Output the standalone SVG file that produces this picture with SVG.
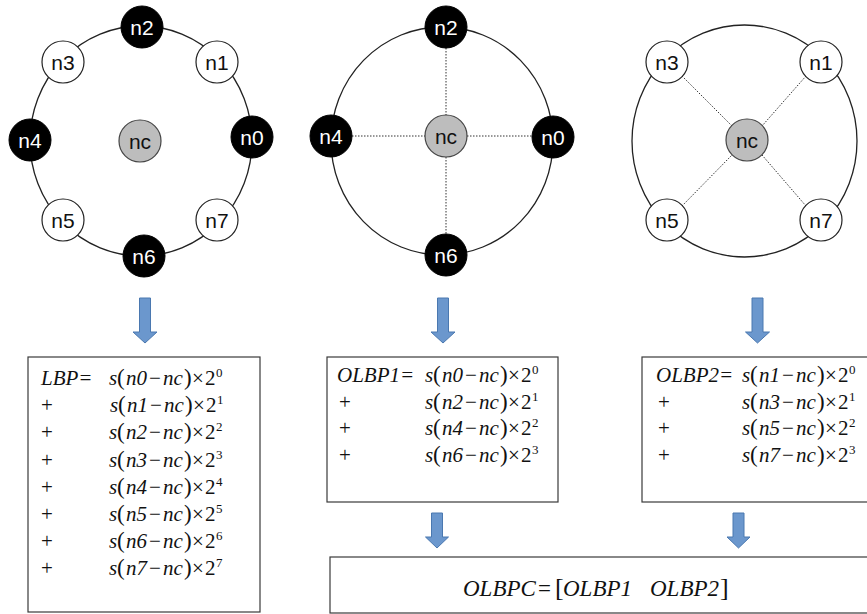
<svg xmlns="http://www.w3.org/2000/svg" width="867" height="614" viewBox="0 0 867 614">
<defs>
<style>
.ring{fill:none;stroke:#222;stroke-width:1.3}
.nb{fill:#000;stroke:#000;stroke-width:1}
.nw{fill:#fff;stroke:#222;stroke-width:1.2}
.ng{fill:#bdbdbd;stroke:#444;stroke-width:1.2}
.lb{font-family:"Liberation Sans",Arial,sans-serif;font-size:21px;text-anchor:middle;dominant-baseline:central}
.lw{fill:#fff}
.lk{fill:#111}
.dot{stroke:#333;stroke-width:1;stroke-dasharray:1.5 1.5;fill:none}
.arr{fill:#6b97cd;stroke:#4a78b0;stroke-width:1}
.box{fill:#fff;stroke:#3a3a3a;stroke-width:1.2}
.m{font-family:"Liberation Serif","Times New Roman",serif;font-size:21px;fill:#111}
.i{font-style:italic}
.p{font-size:23px}
.sup{font-size:13px}
</style>
</defs>

<!-- Diagram 1 -->
<g id="ring1"><ellipse class="ring" cx="141" cy="141" rx="111" ry="115"/></g>
<g id="d1-n2"><circle class="nb" cx="142" cy="27" r="21"/><text class="lb lw" x="142" y="27">n2</text></g>
<g id="d1-n1"><circle class="nw" cx="217" cy="62" r="21"/><text class="lb lk" x="217" y="62">n1</text></g>
<g id="d1-n3"><circle class="nw" cx="63" cy="62" r="21"/><text class="lb lk" x="63" y="62">n3</text></g>
<g id="d1-n4"><circle class="nb" cx="30" cy="140" r="21"/><text class="lb lw" x="30" y="140">n4</text></g>
<g id="d1-n0"><circle class="nb" cx="252" cy="137" r="21"/><text class="lb lw" x="252" y="137">n0</text></g>
<g id="d1-nc"><circle class="ng" cx="140" cy="141" r="21"/><text class="lb lk" x="140" y="141">nc</text></g>
<g id="d1-n5"><circle class="nw" cx="63" cy="220" r="21"/><text class="lb lk" x="63" y="220">n5</text></g>
<g id="d1-n7"><circle class="nw" cx="217" cy="220" r="21"/><text class="lb lk" x="217" y="220">n7</text></g>
<g id="d1-n6"><circle class="nb" cx="144" cy="256" r="21"/><text class="lb lw" x="144" y="256">n6</text></g>

<!-- Diagram 2 -->
<g id="ring2"><ellipse class="ring" cx="442" cy="141" rx="111" ry="114"/></g>
<g id="connectors">
<line class="dot" x1="446" y1="48" x2="446" y2="115"/>
<line class="dot" x1="446" y1="157" x2="446" y2="234"/>
<line class="dot" x1="352" y1="136" x2="425" y2="136"/>
<line class="dot" x1="467" y1="136" x2="532" y2="136"/>
<line class="dot" x1="682" y1="76" x2="732" y2="126"/>
<line class="dot" x1="806" y1="76" x2="762" y2="126"/>
<line class="dot" x1="682" y1="206" x2="732" y2="155"/>
<line class="dot" x1="806" y1="206" x2="762" y2="155"/>
</g>
<g id="d2-n2"><circle class="nb" cx="446" cy="27" r="21"/><text class="lb lw" x="446" y="27">n2</text></g>
<g id="d2-n4"><circle class="nb" cx="331" cy="136" r="21"/><text class="lb lw" x="331" y="136">n4</text></g>
<g id="d2-n0"><circle class="nb" cx="553" cy="137" r="21"/><text class="lb lw" x="553" y="137">n0</text></g>
<g id="d2-nc"><circle class="ng" cx="446" cy="136" r="21"/><text class="lb lk" x="446" y="136">nc</text></g>
<g id="d2-n6"><circle class="nb" cx="446" cy="255" r="21"/><text class="lb lw" x="446" y="255">n6</text></g>

<!-- Diagram 3 -->
<g id="ring3"><ellipse class="ring" cx="744.5" cy="141" rx="112.5" ry="116"/></g>
<g id="d3-n3"><circle class="nw" cx="667" cy="62" r="21"/><text class="lb lk" x="667" y="62">n3</text></g>
<g id="d3-n1"><circle class="nw" cx="821" cy="62" r="21"/><text class="lb lk" x="821" y="62">n1</text></g>
<g id="d3-nc"><circle class="ng" cx="747" cy="140" r="21"/><text class="lb lk" x="747" y="140">nc</text></g>
<g id="d3-n5"><circle class="nw" cx="667" cy="220" r="21"/><text class="lb lk" x="667" y="220">n5</text></g>
<g id="d3-n7"><circle class="nw" cx="821" cy="220" r="21"/><text class="lb lk" x="821" y="220">n7</text></g>

<!-- Arrows -->
<g id="arrows">
<path class="arr" d="M139.5,298 H150.5 V332 H157 L145,343 L133,332 H139.5 Z"/>
<path class="arr" d="M437.5,298 H448.5 V332 H455 L443,343 L431,332 H437.5 Z"/>
<path class="arr" d="M752,298 H763 V332 H769.5 L757.5,343 L745.5,332 H752 Z"/>
<path class="arr" d="M431.5,513 H442.5 V537 H448.5 L437,548 L425.5,537 H431.5 Z"/>
<path class="arr" d="M733,513 H744 V537 H750 L738.5,548 L727,537 H733 Z"/>
</g>

<!-- Box 1: LBP -->
<g id="box-lbp">
<rect class="box" x="28" y="357" width="232" height="255"/>
<text class="m i" x="41" y="385">LBP=</text>
<g class="m">
<text x="41" y="412.2">+</text><text x="41" y="439.4">+</text><text x="41" y="466.6">+</text>
<text x="41" y="493.8">+</text><text x="41" y="521">+</text><text x="41" y="548.2">+</text><text x="41" y="575.4">+</text>
</g>
<g transform="translate(109,385)"><text class="m"><tspan class="i" x="0">s</tspan><tspan class="p" x="8">(</tspan><tspan class="i" x="17">n0</tspan><tspan x="40">−</tspan><tspan class="i" x="54">nc</tspan><tspan class="p" x="75">)</tspan><tspan x="83">×</tspan><tspan x="96">2</tspan><tspan class="sup" x="107" dy="-8">0</tspan></text></g>
<g transform="translate(110,412.2)"><text class="m"><tspan class="i" x="0">s</tspan><tspan class="p" x="8">(</tspan><tspan class="i" x="17">n1</tspan><tspan x="40">−</tspan><tspan class="i" x="54">nc</tspan><tspan class="p" x="75">)</tspan><tspan x="83">×</tspan><tspan x="96">2</tspan><tspan class="sup" x="107" dy="-8">1</tspan></text></g>
<g transform="translate(109,439.4)"><text class="m"><tspan class="i" x="0">s</tspan><tspan class="p" x="8">(</tspan><tspan class="i" x="17">n2</tspan><tspan x="40">−</tspan><tspan class="i" x="54">nc</tspan><tspan class="p" x="75">)</tspan><tspan x="83">×</tspan><tspan x="96">2</tspan><tspan class="sup" x="107" dy="-8">2</tspan></text></g>
<g transform="translate(109,466.6)"><text class="m"><tspan class="i" x="0">s</tspan><tspan class="p" x="8">(</tspan><tspan class="i" x="17">n3</tspan><tspan x="40">−</tspan><tspan class="i" x="54">nc</tspan><tspan class="p" x="75">)</tspan><tspan x="83">×</tspan><tspan x="96">2</tspan><tspan class="sup" x="107" dy="-8">3</tspan></text></g>
<g transform="translate(109,493.8)"><text class="m"><tspan class="i" x="0">s</tspan><tspan class="p" x="8">(</tspan><tspan class="i" x="17">n4</tspan><tspan x="40">−</tspan><tspan class="i" x="54">nc</tspan><tspan class="p" x="75">)</tspan><tspan x="83">×</tspan><tspan x="96">2</tspan><tspan class="sup" x="107" dy="-8">4</tspan></text></g>
<g transform="translate(109,521)"><text class="m"><tspan class="i" x="0">s</tspan><tspan class="p" x="8">(</tspan><tspan class="i" x="17">n5</tspan><tspan x="40">−</tspan><tspan class="i" x="54">nc</tspan><tspan class="p" x="75">)</tspan><tspan x="83">×</tspan><tspan x="96">2</tspan><tspan class="sup" x="107" dy="-8">5</tspan></text></g>
<g transform="translate(109,548.2)"><text class="m"><tspan class="i" x="0">s</tspan><tspan class="p" x="8">(</tspan><tspan class="i" x="17">n6</tspan><tspan x="40">−</tspan><tspan class="i" x="54">nc</tspan><tspan class="p" x="75">)</tspan><tspan x="83">×</tspan><tspan x="96">2</tspan><tspan class="sup" x="107" dy="-8">6</tspan></text></g>
<g transform="translate(109,575.4)"><text class="m"><tspan class="i" x="0">s</tspan><tspan class="p" x="8">(</tspan><tspan class="i" x="17">n7</tspan><tspan x="40">−</tspan><tspan class="i" x="54">nc</tspan><tspan class="p" x="75">)</tspan><tspan x="83">×</tspan><tspan x="96">2</tspan><tspan class="sup" x="107" dy="-8">7</tspan></text></g>
</g>

<!-- Box 2: OLBP1 -->
<g id="box-olbp1">
<rect class="box" x="327" y="357" width="231" height="145"/>
<text class="m i" x="337" y="382">OLBP1=</text>
<g class="m"><text x="339" y="408.7">+</text><text x="339" y="435.4">+</text><text x="339" y="462.1">+</text></g>
<g transform="translate(425,382)"><text class="m"><tspan class="i" x="0">s</tspan><tspan class="p" x="8">(</tspan><tspan class="i" x="17">n0</tspan><tspan x="40">−</tspan><tspan class="i" x="54">nc</tspan><tspan class="p" x="75">)</tspan><tspan x="83">×</tspan><tspan x="96">2</tspan><tspan class="sup" x="107" dy="-8">0</tspan></text></g>
<g transform="translate(425,408.7)"><text class="m"><tspan class="i" x="0">s</tspan><tspan class="p" x="8">(</tspan><tspan class="i" x="17">n2</tspan><tspan x="40">−</tspan><tspan class="i" x="54">nc</tspan><tspan class="p" x="75">)</tspan><tspan x="83">×</tspan><tspan x="96">2</tspan><tspan class="sup" x="107" dy="-8">1</tspan></text></g>
<g transform="translate(425,435.4)"><text class="m"><tspan class="i" x="0">s</tspan><tspan class="p" x="8">(</tspan><tspan class="i" x="17">n4</tspan><tspan x="40">−</tspan><tspan class="i" x="54">nc</tspan><tspan class="p" x="75">)</tspan><tspan x="83">×</tspan><tspan x="96">2</tspan><tspan class="sup" x="107" dy="-8">2</tspan></text></g>
<g transform="translate(425,462.1)"><text class="m"><tspan class="i" x="0">s</tspan><tspan class="p" x="8">(</tspan><tspan class="i" x="17">n6</tspan><tspan x="40">−</tspan><tspan class="i" x="54">nc</tspan><tspan class="p" x="75">)</tspan><tspan x="83">×</tspan><tspan x="96">2</tspan><tspan class="sup" x="107" dy="-8">3</tspan></text></g>
</g>

<!-- Box 3: OLBP2 -->
<g id="box-olbp2">
<rect class="box" x="642" y="357" width="240" height="145"/>
<text class="m i" x="656" y="382">OLBP2=</text>
<g class="m"><text x="658" y="408.7">+</text><text x="658" y="435.4">+</text><text x="658" y="462.1">+</text></g>
<g transform="translate(742,382)"><text class="m"><tspan class="i" x="0">s</tspan><tspan class="p" x="8">(</tspan><tspan class="i" x="17">n1</tspan><tspan x="40">−</tspan><tspan class="i" x="54">nc</tspan><tspan class="p" x="75">)</tspan><tspan x="83">×</tspan><tspan x="96">2</tspan><tspan class="sup" x="107" dy="-8">0</tspan></text></g>
<g transform="translate(742,408.7)"><text class="m"><tspan class="i" x="0">s</tspan><tspan class="p" x="8">(</tspan><tspan class="i" x="17">n3</tspan><tspan x="40">−</tspan><tspan class="i" x="54">nc</tspan><tspan class="p" x="75">)</tspan><tspan x="83">×</tspan><tspan x="96">2</tspan><tspan class="sup" x="107" dy="-8">1</tspan></text></g>
<g transform="translate(742,435.4)"><text class="m"><tspan class="i" x="0">s</tspan><tspan class="p" x="8">(</tspan><tspan class="i" x="17">n5</tspan><tspan x="40">−</tspan><tspan class="i" x="54">nc</tspan><tspan class="p" x="75">)</tspan><tspan x="83">×</tspan><tspan x="96">2</tspan><tspan class="sup" x="107" dy="-8">2</tspan></text></g>
<g transform="translate(742,462.1)"><text class="m"><tspan class="i" x="0">s</tspan><tspan class="p" x="8">(</tspan><tspan class="i" x="17">n7</tspan><tspan x="40">−</tspan><tspan class="i" x="54">nc</tspan><tspan class="p" x="75">)</tspan><tspan x="83">×</tspan><tspan x="96">2</tspan><tspan class="sup" x="107" dy="-8">3</tspan></text></g>
</g>

<!-- Box 4: OLBPC -->
<g id="box-olbpc">
<rect class="box" x="330" y="557" width="550" height="56"/>
<text class="m" style="font-size:23px" y="596"><tspan class="i" x="463">OLBPC</tspan><tspan x="538">=</tspan><tspan x="555" style="font-size:26px">[</tspan><tspan class="i" x="563">OLBP1</tspan><tspan class="i" x="650">OLBP2</tspan><tspan x="720" style="font-size:26px">]</tspan></text>
</g>
</svg>
